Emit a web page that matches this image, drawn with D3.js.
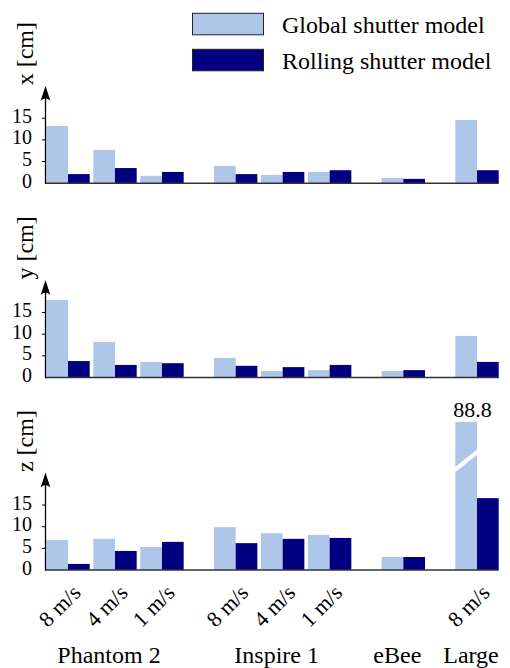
<!DOCTYPE html>
<html>
<head>
<meta charset="utf-8">
<script src="https://cdn.jsdelivr.net/npm/d3@7"></script>
<style>
  html, body { margin: 0; padding: 0; background: #fff; }
  svg { display: block; }
</style>
</head>
<body>
<svg id="chart" width="510" height="668" font-family="'Liberation Serif', 'DejaVu Serif', serif"></svg>
<script>
// ---------- data ----------
const seriesNames = ["Global shutter model", "Rolling shutter model"];
const groupNames = ["Phantom 2", "Inspire 1", "eBee", "Large"];
const caseGroup = [0, 0, 0, 1, 1, 1, 2, 3];
const speedLabels = ["8 m/s", "4 m/s", "1 m/s", "8 m/s", "4 m/s", "1 m/s", "", "8 m/s"];

const xGlobal  = [13.2, 7.7, 1.7, 4.0, 1.9, 2.6, 1.2, 14.6];
const xRolling = [2.1, 3.5, 2.6, 2.1, 2.6, 3.0, 1.0, 3.0];
const yGlobal  = [17.9, 8.2, 3.6, 4.5, 1.5, 1.7, 1.5, 9.6];
const yRolling = [3.8, 2.9, 3.3, 2.7, 2.4, 2.9, 1.7, 3.6];
const zGlobal  = [6.9, 7.2, 5.3, 9.9, 8.5, 8.1, 3.0, 88.8];
const zRolling = [1.4, 4.4, 6.5, 6.2, 7.2, 7.4, 3.0, 16.6];

const yTicks = [0, 5, 10, 15];
const axisLabels = ["x [cm]", "y [cm]", "z [cm]"];

// ---------- layout ----------
const FONT = "Liberation Serif";
const colors = ["#aec7e8", "#000080"];
const svg = d3.select("#chart");
const axisX = 45.5;
const axisTop = 22.5;          // y-axis extent in data units
const pxPerUnit = 4.33;
const barW = 21.7;
const groupGap = 0.568;        // extra gap between platforms, in case-steps
const brokenCap = 34.2;        // display height of the broken bar (axis units)

const slot = caseGroup.map((g, i) => i + g * groupGap);
const x = d3.scaleLinear()
  .domain([0, d3.max(slot)])
  .range([68, 477]);

const panels = [
  { label: axisLabels[0], g: xGlobal, r: xRolling, base: 183.2 },
  { label: axisLabels[1], g: yGlobal, r: yRolling, base: 377.5 },
  { label: axisLabels[2], g: zGlobal, r: zRolling, base: 570 }
];

function txt(sel) { return sel.append("text").attr("font-family", FONT).attr("fill", "#000"); }

panels.forEach(p => {
  const y = d3.scaleLinear().domain([0, axisTop]).range([p.base, p.base - axisTop * pxPerUnit]);
  const gp = svg.append("g");

  const rows = slot.map((s, i) => ({ s, vals: [p.g[i], p.r[i]] }));
  rows.forEach(row => {
    row.vals.forEach((v, k) => {
      const broken = v > axisTop + 10;
      const shown = broken ? brokenCap : v;
      const x0 = x(row.s) - barW + k * barW;
      gp.append("rect")
        .attr("x", x0).attr("y", y(shown))
        .attr("width", barW).attr("height", y(0) - y(shown))
        .attr("fill", colors[k]);
      if (broken) {
        gp.append("line")
          .attr("x1", x0 - 1).attr("y1", y(23.0))
          .attr("x2", x0 + barW + 1).attr("y2", y(27.4))
          .attr("stroke", "#fff").attr("stroke-width", 4);
        txt(gp)
          .attr("x", x0 - 2).attr("y", y(shown) - 5)
          .attr("font-size", 22)
          .text(d3.format(".1f")(v));
      }
    });
  });

  // baseline
  gp.append("line")
    .attr("x1", axisX).attr("x2", x(d3.max(slot)) + barW)
    .attr("y1", y(0)).attr("y2", y(0))
    .attr("stroke", "#333").attr("stroke-width", 1.6);

  // y axis with arrow
  const top = y(axisTop);
  gp.append("line")
    .attr("x1", axisX).attr("x2", axisX)
    .attr("y1", y(0) + 0.8).attr("y2", top + 8)
    .attr("stroke", "#000").attr("stroke-width", 1.3);
  gp.append("path")
    .attr("d", `M${axisX},${top} L${axisX + 4.8},${top + 15} Q${axisX},${top + 10} ${axisX - 4.8},${top + 15} Z`)
    .attr("fill", "#000");

  // ticks
  yTicks.forEach(t => {
    if (t > 0) {
      gp.append("line")
        .attr("x1", axisX - 3.5).attr("x2", axisX)
        .attr("y1", y(t)).attr("y2", y(t))
        .attr("stroke", "#000").attr("stroke-width", 1);
    }
    txt(gp)
      .attr("x", 32).attr("y", y(t) + 4.5)
      .attr("text-anchor", "end")
      .attr("font-size", 20)
      .text(t);
  });

  // axis label
  txt(gp)
    .attr("transform", `translate(33,${top - 0.5}) rotate(-90)`)
    .attr("font-size", 24)
    .text(p.label);
});

// speed labels (rotated)
speedLabels.forEach((s, i) => {
  if (!s) return;
  txt(svg)
    .attr("transform", `translate(${x(slot[i]) + 14},594) rotate(-45)`)
    .attr("text-anchor", "end")
    .attr("font-size", 22)
    .text(s);
});

// group labels
groupNames.forEach((name, gi) => {
  const idx = caseGroup.map((g, i) => g === gi ? i : -1).filter(i => i >= 0);
  const cx = d3.mean(idx, i => x(slot[i])) - 6;
  txt(svg)
    .attr("x", cx).attr("y", 663)
    .attr("text-anchor", "middle")
    .attr("font-size", 24)
    .text(name);
});

// legend
seriesNames.forEach((name, k) => {
  const ly = 13.3 + k * 36;
  svg.append("rect")
    .attr("x", 192.5).attr("y", ly)
    .attr("width", 71).attr("height", 21.5)
    .attr("fill", colors[k])
    .attr("stroke", "#222").attr("stroke-width", 1);
  txt(svg)
    .attr("x", 282).attr("y", ly + 20)
    .attr("font-size", 24)
    .text(name);
});
</script>
</body>
</html>
